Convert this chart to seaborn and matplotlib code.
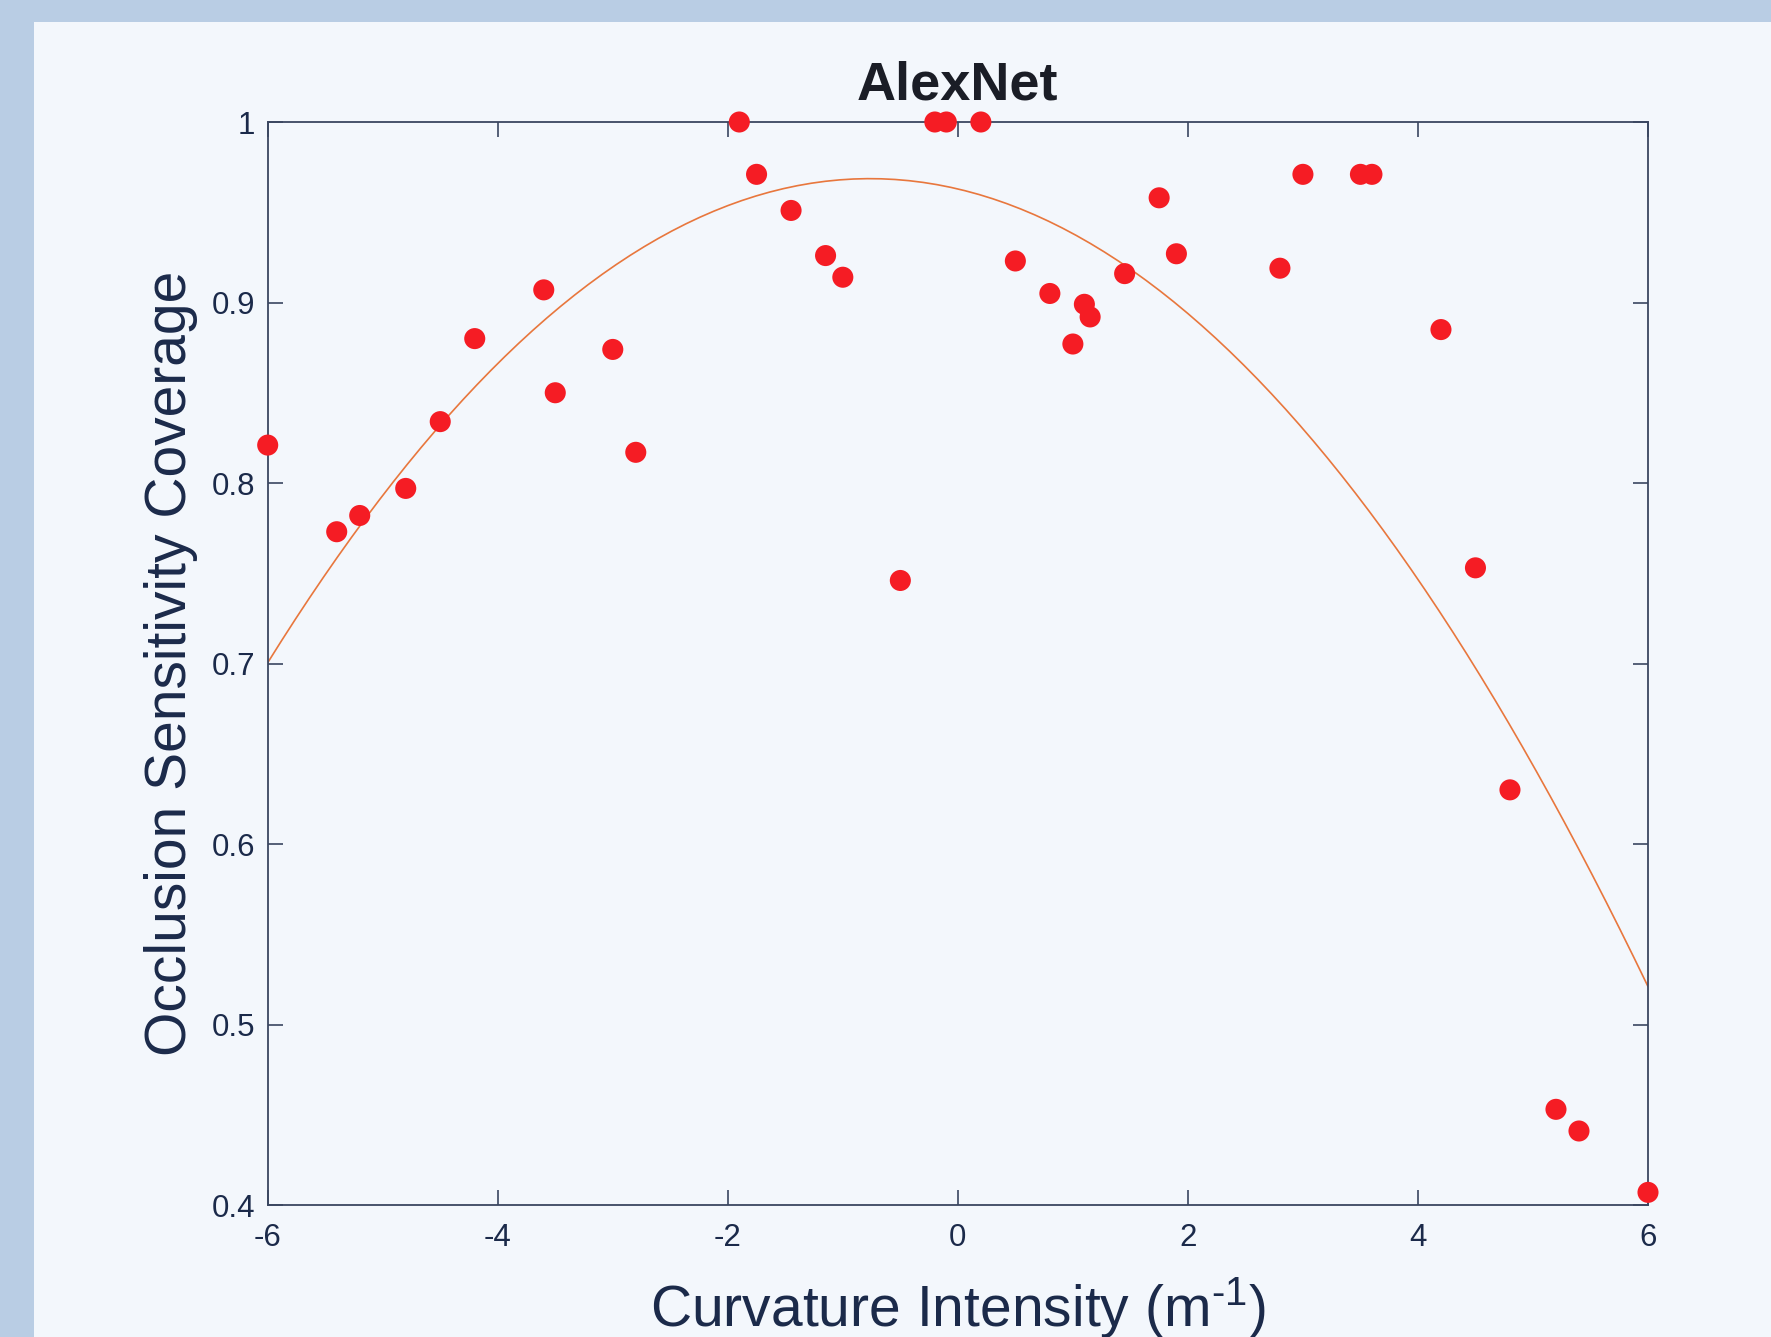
import numpy as np
import pandas as pd
import seaborn as sns
import matplotlib
matplotlib.use("Agg")
import matplotlib.pyplot as plt
from matplotlib.patches import Rectangle

# ---- data ----
curvature = [-6.0, -5.4, -5.2, -4.8, -4.5, -4.2, -3.6, -3.5, -3.0, -2.8,
             -1.9, -1.75, -1.45, -1.15, -1.0, -0.5, -0.2, -0.1, 0.2, 0.5,
             0.8, 1.0, 1.1, 1.15, 1.45, 1.75, 1.9, 2.8, 3.0, 3.5,
             3.6, 4.2, 4.5, 4.8, 5.2, 5.4, 6.0]
coverage = [0.821, 0.773, 0.782, 0.797, 0.834, 0.880, 0.907, 0.850, 0.874, 0.817,
            1.000, 0.971, 0.951, 0.926, 0.914, 0.746, 1.000, 1.000, 1.000, 0.923,
            0.905, 0.877, 0.899, 0.892, 0.916, 0.958, 0.927, 0.919, 0.971, 0.971,
            0.971, 0.885, 0.753, 0.630, 0.453, 0.441, 0.407]
x_ticks = [-6, -4, -2, 0, 2, 4, 6]
y_ticks = [0.4, 0.5, 0.6, 0.7, 0.8, 0.9, 1.0]
y_tick_labels = ["0.4", "0.5", "0.6", "0.7", "0.8", "0.9", "1"]
title = "AlexNet"
xlabel = "Curvature Intensity (m$^{\u20101}$)"
ylabel = "Occlusion Sensitivity Coverage"

df = pd.DataFrame({"curvature": curvature, "coverage": coverage})

sns.set_theme(style="white")
plt.rcParams["font.family"] = ["Liberation Sans", "DejaVu Sans"]
plt.rcParams["axes.unicode_minus"] = False
plt.rcParams["mathtext.fontset"] = "custom"
plt.rcParams["mathtext.rm"] = "Liberation Sans"
plt.rcParams["mathtext.it"] = "Liberation Sans"
plt.rcParams["mathtext.default"] = "regular"

text_c = "#1b2a4a"
spine_c = "#3a4660"
panel_c = "#f3f7fc"
border_c = "#b9cde4"

fig = plt.figure(figsize=(17.71, 13.37), dpi=100, facecolor=border_c)
fig.patches.append(Rectangle((34 / 1771, 0), 1.0, 1 - 21.5 / 1337,
                             transform=fig.transFigure, facecolor=panel_c,
                             edgecolor="none", zorder=-10))

L, R, T, B = 267.7, 1648, 122, 1205
ax = fig.add_axes([L / 1771, 1 - B / 1337, (R - L) / 1771, (B - T) / 1337])
ax.set_zorder(1)
ax.set_facecolor(panel_c)

sns.regplot(data=df, x="curvature", y="coverage", order=2, ci=None,
            scatter=False, ax=ax, truncate=True,
            line_kws=dict(color="#e8773d", lw=1.2, zorder=2))
sns.scatterplot(data=df, x="curvature", y="coverage", ax=ax, color="#f51c24",
                s=230, edgecolor="none", linewidth=0, zorder=3, clip_on=False)

ax.set_xlim(-6, 6)
ax.set_ylim(0.4, 1.0)
ax.set_xticks(x_ticks)
ax.set_xticklabels([str(t) for t in x_ticks])
ax.set_yticks(y_ticks)
ax.set_yticklabels(y_tick_labels)
ax.tick_params(direction="in", length=11, width=1.2, colors=spine_c,
               labelcolor=text_c, labelsize=22.5, top=True, right=True,
               bottom=True, left=True)
ax.tick_params(axis="x", pad=13)
ax.tick_params(axis="y", pad=9)
for s in ax.spines.values():
    s.set_visible(True)
    s.set_color(spine_c)
    s.set_linewidth(1.3)

ax.set_title(title, fontsize=39, fontweight="bold", color="#1a1d26", pad=16)
ax.set_xlabel(xlabel, fontsize=41, color=text_c, labelpad=16)
ax.set_ylabel(ylabel, fontsize=41, color=text_c, labelpad=10)

fig.savefig("out.png", dpi=100, facecolor=border_c)
